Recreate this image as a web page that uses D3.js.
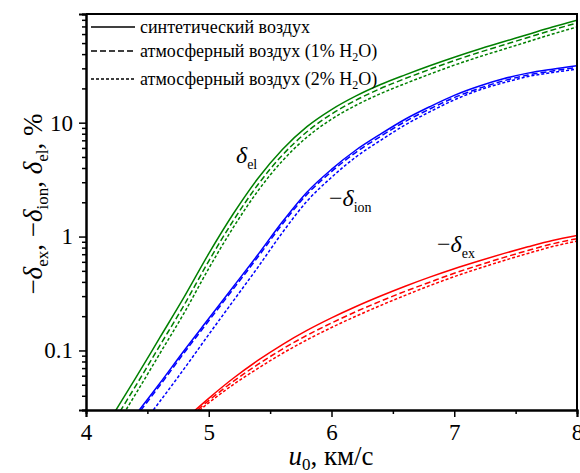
<!DOCTYPE html>
<html>
<head>
<meta charset="utf-8">
<script src="https://cdn.jsdelivr.net/npm/d3@7/dist/d3.min.js"></script>
<style>
  html, body { margin: 0; padding: 0; background: #fff; }
  svg { display: block; }
  svg text { font-family: "Liberation Serif", "DejaVu Serif", serif; }
</style>
</head>
<body>
<svg id="chart" width="580" height="473"></svg>
<script>
// Flow velocity u0, km/s, for each group of curves
const uEl  = [4.2, 4.4, 4.6, 4.8, 5.0, 5.2, 5.4, 5.6, 5.8, 6.0, 6.2, 6.4, 6.6, 6.8, 7.0, 7.2, 7.4, 7.6, 7.8, 8.0];
const uIon = [4.4, 4.6, 4.8, 5.0, 5.2, 5.4, 5.6, 5.8, 6.0, 6.2, 6.4, 6.6, 6.8, 7.0, 7.2, 7.4, 7.6, 7.8, 8.0];
const uEx  = [4.8, 5.0, 5.2, 5.4, 5.6, 5.8, 6.0, 6.2, 6.4, 6.6, 6.8, 7.0, 7.2, 7.4, 7.6, 7.8, 8.0];

// delta_el, %  (synthetic air / 1% H2O / 2% H2O)
const elSynth = [0.0251, 0.0562, 0.1288, 0.2951, 0.7079, 1.585, 3.236, 5.821, 9.226, 13.03, 17.18, 21.63, 26.30, 31.62, 37.58, 44.16, 51.29, 59.57, 69.18, 79.43];
const elH2O1  = [0.0214, 0.0479, 0.1096, 0.2512, 0.6095, 1.380, 2.851, 5.188, 8.318, 11.89, 15.78, 19.95, 24.38, 29.38, 35.08, 41.30, 48.08, 55.98, 65.16, 74.99];
const elH2O2  = [0.0182, 0.0407, 0.0933, 0.2138, 0.5248, 1.202, 2.512, 4.624, 7.464, 10.72, 14.22, 17.99, 22.03, 26.67, 31.99, 37.76, 44.06, 51.40, 59.98, 69.18];

// -delta_ion, %
const ionSynth = [0.0269, 0.0513, 0.1000, 0.1905, 0.3631, 0.6918, 1.349, 2.455, 3.890, 5.754, 7.943, 10.72, 13.80, 17.38, 20.89, 24.27, 27.23, 29.51, 31.62];
const ionH2O1  = [0.0257, 0.0490, 0.0955, 0.1820, 0.3467, 0.6607, 1.288, 2.344, 3.715, 5.495, 7.586, 10.23, 13.18, 16.60, 19.95, 23.28, 26.18, 28.44, 30.55];
const ionH2O2  = [0.0186, 0.0355, 0.0692, 0.1380, 0.2723, 0.5370, 1.084, 2.042, 3.311, 5.012, 7.000, 9.550, 12.45, 15.85, 19.28, 22.39, 25.41, 27.54, 29.51];

// -delta_ex, %
const exSynth = [0.0245, 0.0380, 0.0570, 0.0817, 0.1127, 0.1500, 0.1932, 0.2432, 0.3006, 0.3664, 0.4406, 0.5224, 0.6109, 0.7079, 0.8128, 0.9247, 1.023];
const exH2O1  = [0.0237, 0.0363, 0.0535, 0.0753, 0.1028, 0.1358, 0.1742, 0.2193, 0.2710, 0.3304, 0.3972, 0.4764, 0.5598, 0.6531, 0.7551, 0.8630, 0.9594];
const exH2O2  = [0.0229, 0.0347, 0.0502, 0.0695, 0.0942, 0.1239, 0.1589, 0.2000, 0.2483, 0.3048, 0.3707, 0.4446, 0.5248, 0.6138, 0.7112, 0.8166, 0.9120];

// Axis ticks
const xMajor = [4, 5, 6, 7, 8];
const xMinor = [4.5, 5.5, 6.5, 7.5];
const yMajor = [0.1, 1, 10];
const yMinor = [0.03, 0.04, 0.05, 0.06, 0.07, 0.08, 0.09,
                0.2, 0.3, 0.4, 0.5, 0.6, 0.7, 0.8, 0.9,
                2, 3, 4, 5, 6, 7, 8, 9,
                20, 30, 40, 50, 60, 70, 80, 90];
const yTickText = ["0.1", "1", "10"];

// Legend entries
const legendNames = ["синтетический воздух", "атмосферный воздух (1% H", "атмосферный воздух (2% H"];
const dashStyles = ["none", "6,3", "3,2"];

const svg = d3.select("#chart");
const margin = { left: 86, right: 3, top: 14, bottom: 63 };
const W = 580, H = 473;
const x0 = margin.left, x1 = W - margin.right;
const y0 = H - margin.bottom, y1 = margin.top;
const serif = '"Liberation Serif", "DejaVu Serif", serif';

const x = d3.scaleLinear().domain([4, 8]).range([x0, x1]);
const y = d3.scaleLog().domain([0.03, 90]).range([y0, y1]);

svg.append("defs").append("clipPath").attr("id", "plotClip")
  .append("rect").attr("x", x0).attr("y", y1).attr("width", x1 - x0).attr("height", y0 - y1);

// Curves
const groups = [
  { u: uEl,  series: [elSynth, elH2O1, elH2O2],    color: "#008000" },
  { u: uIon, series: [ionSynth, ionH2O1, ionH2O2], color: "#0000ff" },
  { u: uEx,  series: [exSynth, exH2O1, exH2O2],    color: "#ff0000" }
];

const line = d3.line().curve(d3.curveMonotoneX);
const plot = svg.append("g").attr("clip-path", "url(#plotClip)");
groups.forEach(g => {
  g.series.forEach((vals, i) => {
    const pts = g.u.map((u, k) => [x(u), y(vals[k])]);
    plot.append("path")
      .attr("d", line(pts))
      .attr("fill", "none")
      .attr("stroke", g.color)
      .attr("stroke-width", 1.5)
      .attr("stroke-dasharray", dashStyles[i]);
  });
});

// Axes
const axisFont = 23;
const xAxis = svg.append("g").attr("transform", `translate(0,${y0})`)
  .call(d3.axisBottom(x).tickValues(xMajor).tickSize(7).tickPadding(6).tickFormat(d3.format("d")));
svg.append("g").attr("transform", `translate(0,${y0})`)
  .call(d3.axisBottom(x).tickValues(xMinor).tickSize(4).tickFormat(""));
const yAxis = svg.append("g").attr("transform", `translate(${x0},0)`)
  .call(d3.axisLeft(y).tickValues(yMajor).tickSize(7).tickPadding(6).tickFormat((d, i) => yTickText[i]));
svg.append("g").attr("transform", `translate(${x0},0)`)
  .call(d3.axisLeft(y).tickValues(yMinor).tickSize(4).tickFormat(""));

svg.selectAll("g").attr("font-family", serif);
svg.selectAll(".domain").attr("stroke", "#000").attr("stroke-width", 2);
svg.selectAll(".tick line").attr("stroke", "#000").attr("stroke-width", 1.5);
svg.selectAll(".tick text").attr("font-size", axisFont).attr("fill", "#000");
xAxis.selectAll(".tick text").attr("dy", "0.74em");

// Frame: top and right edges
svg.append("path")
  .attr("d", `M${x0},${y1}H${x1}V${y0}`)
  .attr("fill", "none").attr("stroke", "#000").attr("stroke-width", 2);

// Axis titles
const xt = svg.append("text").attr("x", 331).attr("y", 465)
  .attr("text-anchor", "middle").attr("font-size", 27);
xt.append("tspan").attr("font-style", "italic").text("u");
xt.append("tspan").attr("font-size", 17).attr("dy", 5).text("0");
xt.append("tspan").attr("dy", -5).text(", км/с");

const yt = svg.append("text")
  .attr("transform", "translate(42,204) rotate(-90)")
  .attr("text-anchor", "middle").attr("font-size", 27);
function deltaSub(sel, sign, sub, tail) {
  if (sign) sel.append("tspan").text(sign);
  sel.append("tspan").attr("font-style", "italic").text("δ");
  sel.append("tspan").attr("font-size", 17).attr("dy", 6).text(sub);
  sel.append("tspan").attr("dy", -6).text(tail);
}
deltaSub(yt, "−", "ex", ", ");
deltaSub(yt, "−", "ion", ", ");
deltaSub(yt, "", "el", ", %");

// Curve annotations
function curveLabel(px, py, sign, sub) {
  const t = svg.append("text").attr("x", px).attr("y", py).attr("font-size", 24);
  if (sign) t.append("tspan").text(sign);
  t.append("tspan").attr("font-style", "italic").text("δ");
  t.append("tspan").attr("font-size", 14).attr("dy", 6).text(sub);
}
curveLabel(236, 163, "", "el");
curveLabel(329, 206, "−", "ion");
curveLabel(437, 252, "−", "ex");

// Legend
const legRows = [27, 51, 79];
const leg = svg.append("g");
legendNames.forEach((name, i) => {
  leg.append("line")
    .attr("x1", 91).attr("x2", 135)
    .attr("y1", legRows[i]).attr("y2", legRows[i])
    .attr("stroke", "#000").attr("stroke-width", 1.5)
    .attr("stroke-dasharray", dashStyles[i]);
  const t = leg.append("text").attr("x", 140).attr("y", legRows[i] + 6).attr("font-size", 18);
  t.append("tspan").text(name);
  if (i > 0) {
    t.append("tspan").attr("font-size", 12).attr("dy", 4).text("2");
    t.append("tspan").attr("dy", -4).text("O)");
  }
});
</script>
</body>
</html>
